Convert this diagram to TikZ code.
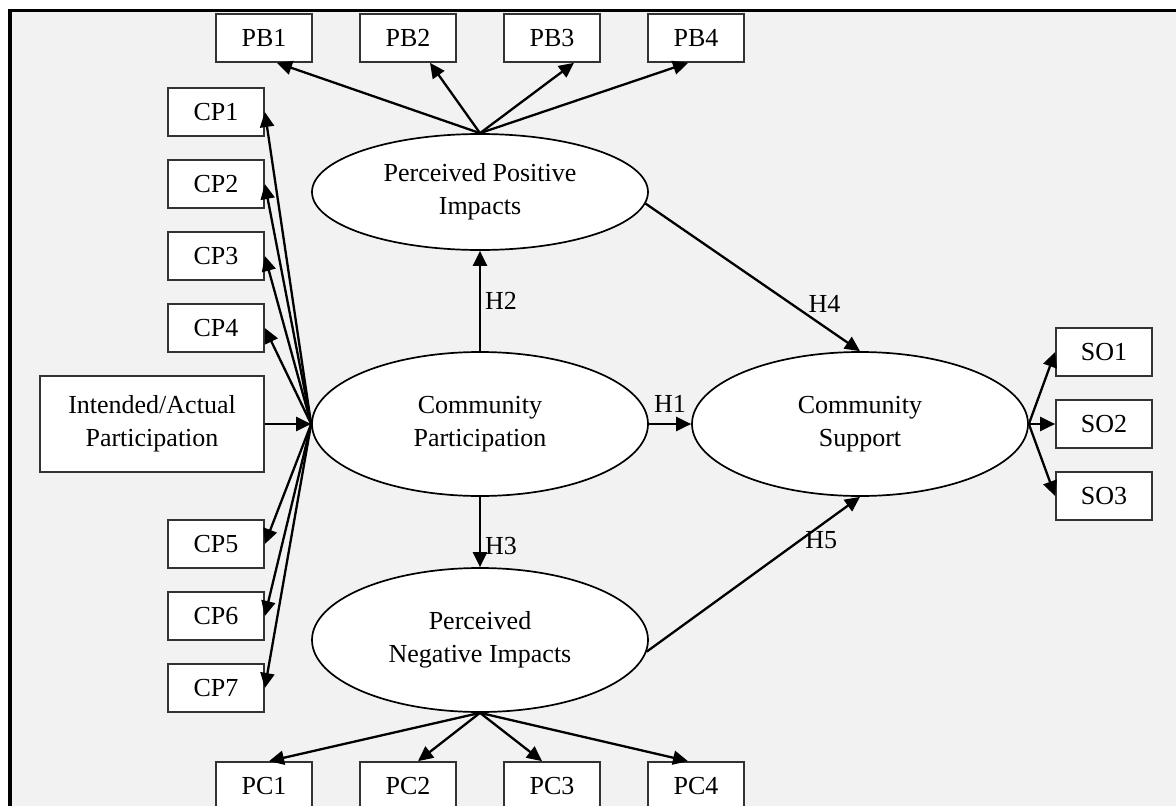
\documentclass[tikz,border=0pt]{standalone}
\usepackage{fontspec}
\setmainfont{Liberation Serif}
\usetikzlibrary{shapes.geometric,arrows.meta}
\begin{document}
\begin{tikzpicture}[x=1pt,y=-1pt,
  every node/.style={font=\fontsize{26}{33}\selectfont},
  ind/.style={draw=black!80,fill=white,line width=1.7pt,minimum width=96pt,minimum height=48pt,inner sep=0pt},
  lat/.style={draw,fill=white,ellipse,line width=1.7pt,minimum width=336pt,minimum height=144pt,inner sep=0pt,align=center},
  arr/.style={-{Triangle[length=15pt,width=14pt]},line width=2.3pt},
  hyp/.style={inner sep=4pt}]
\useasboundingbox (0,0) rectangle (1176,806);
\fill[black!5] (10,10) rectangle (1176,806);
\draw[line width=3.5pt] (1176,10.5) -- (10,10.5) -- (10,806);
\node[lat] (cp) at (480,424) {Community\\Participation};
\node[lat,minimum height=116pt] (ppi) at (480,192) {Perceived Positive\\Impacts};
\node[lat] (pni) at (480,640) {Perceived\\Negative Impacts};
\node[lat] (cs) at (860,424) {Community\\Support};
\node[ind,minimum width=224pt,minimum height=96pt,align=center] (iap) at (152,424) {Intended/Actual\\Participation};
\node[ind] (cp1) at (216,112) {CP1};
\node[ind] (cp2) at (216,184) {CP2};
\node[ind] (cp3) at (216,256) {CP3};
\node[ind] (cp4) at (216,328) {CP4};
\node[ind] (cp5) at (216,544) {CP5};
\node[ind] (cp6) at (216,616) {CP6};
\node[ind] (cp7) at (216,688) {CP7};
\node[ind] (pb1) at (264,38) {PB1};
\node[ind] (pb2) at (408,38) {PB2};
\node[ind] (pb3) at (552,38) {PB3};
\node[ind] (pb4) at (696,38) {PB4};
\node[ind] (pc1) at (264,786) {PC1};
\node[ind] (pc2) at (408,786) {PC2};
\node[ind] (pc3) at (552,786) {PC3};
\node[ind] (pc4) at (696,786) {PC4};
\node[ind] (so1) at (1104,352) {SO1};
\node[ind] (so2) at (1104,424) {SO2};
\node[ind] (so3) at (1104,496) {SO3};
\draw[arr] (iap) -- (cp);
\draw[arr] (cp.west) -- (cp1.east);
\draw[arr] (cp.west) -- (cp2.east);
\draw[arr] (cp.west) -- (cp3.east);
\draw[arr] (cp.west) -- (cp4.east);
\draw[arr] (cp.west) -- (cp5.east);
\draw[arr] (cp.west) -- (cp6.east);
\draw[arr] (cp.west) -- (cp7.east);
\draw[arr] (ppi.north) -- ([xshift=13pt]pb1.south);
\draw[arr] (ppi.north) -- ([xshift=22pt]pb2.south);
\draw[arr] (ppi.north) -- ([xshift=22pt]pb3.south);
\draw[arr] (ppi.north) -- ([xshift=-8pt]pb4.south);
\draw[arr] (pni.south) -- ([xshift=5pt]pc1.north);
\draw[arr] (pni.south) -- ([xshift=10pt]pc2.north);
\draw[arr] (pni.south) -- ([xshift=-10pt]pc3.north);
\draw[arr] (pni.south) -- ([xshift=-8pt]pc4.north);
\draw[arr] (cs.east) -- (so1.west);
\draw[arr] (cs.east) -- (so2.west);
\draw[arr] (cs.east) -- (so3.west);
\draw[arr] (cp) -- node[hyp,above=6pt]{H1} (cs);
\draw[arr] (cp) -- node[hyp,right]{H2} (ppi);
\draw[arr] (cp) -- node[hyp,right,pos=.7]{H3} (pni);
\draw[arr] (ppi.-4) -- node[hyp,right=12pt,pos=.68]{H4} (cs.north);
\draw[arr] (pni.-4) -- node[hyp,right,pos=.72]{H5} (cs.south);
\end{tikzpicture}
\end{document}
